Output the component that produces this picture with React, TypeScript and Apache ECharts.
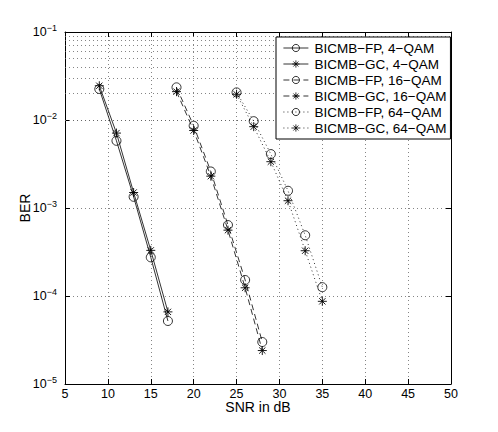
import React, { useEffect, useRef } from "react";
import * as echarts from "echarts";

const snr4 = [9, 11, 13, 15, 17];
const fp4 = [0.0225, 0.0058, 0.00134, 0.000275, 0.000052];
const gc4 = [0.0245, 0.0071, 0.0015, 0.00033, 0.000066];

const snr16 = [18, 20, 22, 24, 26, 28];
const fp16 = [0.0235, 0.0086, 0.0026, 0.00064, 0.000152, 0.00003];
const gc16 = [0.021, 0.0076, 0.0023, 0.00056, 0.000124, 0.000024];

const snr64 = [25, 27, 29, 31, 33, 35];
const fp64 = [0.0206, 0.0097, 0.0041, 0.00157, 0.00049, 0.000126];
const gc64 = [0.0196, 0.0084, 0.00336, 0.00121, 0.000327, 0.000087];

const seriesNames = [
  "BICMB\u2212FP, 4\u2212QAM",
  "BICMB\u2212GC, 4\u2212QAM",
  "BICMB\u2212FP, 16\u2212QAM",
  "BICMB\u2212GC, 16\u2212QAM",
  "BICMB\u2212FP, 64\u2212QAM",
  "BICMB\u2212GC, 64\u2212QAM",
];

const xMin = 5;
const xMax = 50;
const xStep = 5;
const yMin = 1e-5;
const yMax = 1e-1;
const minorMultipliers = [2, 3, 4, 5, 6, 7, 8, 9];
const decades = [-5, -4, -3, -2];

const STAR = "path://M5,0L5,10M0,5L10,5M1.5,1.5L8.5,8.5M1.5,8.5L8.5,1.5";
const GRID_DOT = { type: [1, 3] as number[], color: "#666", width: 0.8 };

function zip(xs: number[], ys: number[]) {
  return xs.map((x, i) => [x, ys[i]]);
}

export default function App() {
  const ref = useRef<HTMLDivElement>(null);
  useEffect(() => {
    if (!ref.current) return;
    const chart = echarts.init(ref.current, null, { renderer: "svg" });
    const font = "Liberation Sans, Arial, Helvetica, sans-serif";

    const minorLines: { yAxis: number }[] = [];
    decades.forEach((d) =>
      minorMultipliers.forEach((m) => minorLines.push({ yAxis: m * Math.pow(10, d) }))
    );

    const lineTypes: any[] = ["solid", "solid", [6, 4], [6, 4], [1, 3], [1, 3]];
    const datas = [
      zip(snr4, fp4),
      zip(snr4, gc4),
      zip(snr16, fp16),
      zip(snr16, gc16),
      zip(snr64, fp64),
      zip(snr64, gc64),
    ];

    const series: any[] = datas.map((d, i) => {
      const isCircle = i % 2 === 0;
      const s: any = {
        name: seriesNames[i],
        type: "line",
        data: d,
        symbol: isCircle ? "circle" : STAR,
        symbolSize: 9,
        showSymbol: true,
        lineStyle: { color: "#000", width: 0.8, type: lineTypes[i] },
        itemStyle: isCircle
          ? { color: "rgba(0,0,0,0)", borderColor: "#000", borderWidth: 0.8 }
          : { color: "#000", borderColor: "#000", borderWidth: 0.9 },
        emphasis: { disabled: true },
        z: 3,
      };
      if (i === 0) {
        s.markLine = {
          silent: true,
          symbol: ["none", "none"],
          label: { show: false },
          lineStyle: GRID_DOT,
          emphasis: { disabled: true },
          data: minorLines,
          animation: false,
          z: 1,
        };
      }
      return s;
    });

    const yLabel = (v: number) => {
      const e = Math.round(Math.log10(v));
      return "10{s|\u2212" + Math.abs(e) + "}";
    };

    chart.setOption({
      animation: false,
      backgroundColor: "#fff",
      textStyle: { fontFamily: font },
      grid: { left: 65, top: 32, width: 386, height: 352 },
      xAxis: [
        {
          type: "value",
          min: xMin,
          max: xMax,
          interval: xStep,
          position: "bottom",
          name: "SNR in dB",
          nameLocation: "middle",
          nameGap: 16,
          nameMoveOverlap: false,
          nameTextStyle: { fontSize: 14, lineHeight: 14, color: "#000", fontFamily: font },
          axisLine: { show: true, lineStyle: { color: "#000", width: 1 } },
          axisTick: { show: true, inside: true, length: 5, lineStyle: { color: "#000" } },
          axisLabel: { fontSize: 12.5, lineHeight: 11, color: "#000", margin: 4, fontFamily: font },
          splitLine: { show: true, lineStyle: GRID_DOT },
        },
        {
          type: "value",
          min: xMin,
          max: xMax,
          interval: xStep,
          position: "top",
          axisLine: { show: true, lineStyle: { color: "#000", width: 1 } },
          axisTick: { show: true, inside: true, length: 5, lineStyle: { color: "#000" } },
          axisLabel: { show: false },
          splitLine: { show: false },
        },
      ],
      yAxis: [
        {
          type: "log",
          logBase: 10,
          min: yMin,
          max: yMax,
          position: "left",
          name: "BER",
          nameLocation: "middle",
          nameGap: 33,
          nameMoveOverlap: false,
          nameRotate: 90,
          nameTextStyle: { fontSize: 14, lineHeight: 14, color: "#000", fontFamily: font },
          axisLine: { show: true, lineStyle: { color: "#000", width: 1 } },
          axisTick: { show: true, inside: true, length: 5, lineStyle: { color: "#000" } },
          axisLabel: {
            formatter: yLabel,
            margin: 8,
            color: "#000",
            fontSize: 12.5,
            fontFamily: font,
            rich: {
              s: { fontSize: 9, color: "#000", fontFamily: font, padding: [0, 0, 9, 0] },
            },
          },
          splitLine: { show: true, lineStyle: GRID_DOT },
        },
        {
          type: "log",
          logBase: 10,
          min: yMin,
          max: yMax,
          position: "right",
          axisLine: { show: true, lineStyle: { color: "#000", width: 1 } },
          axisTick: { show: true, inside: true, length: 5, lineStyle: { color: "#000" } },
          axisLabel: { show: false },
          splitLine: { show: false },
        },
      ],
      legend: {
        data: seriesNames,
        orient: "vertical",
        left: 276,
        top: 37,
        backgroundColor: "#fff",
        borderColor: "#000",
        borderWidth: 1,
        borderRadius: 0,
        padding: [3, 4, 3, 7],
        itemGap: 0,
        itemWidth: 25,
        itemHeight: 9,
        selectedMode: false,
        lineStyle: { width: 0.8 },
        itemStyle: { borderWidth: 0.8 },
        textStyle: { fontSize: 13.5, color: "#000", fontFamily: font, lineHeight: 16, padding: [0, 0, 0, 1] },
      },
      series,
    });
    return () => chart.dispose();
  }, []);
  return (
    <div
      ref={ref}
      style={{ position: "fixed", left: 0, top: 0, width: 498, height: 432, background: "#fff" }}
    />
  );
}
